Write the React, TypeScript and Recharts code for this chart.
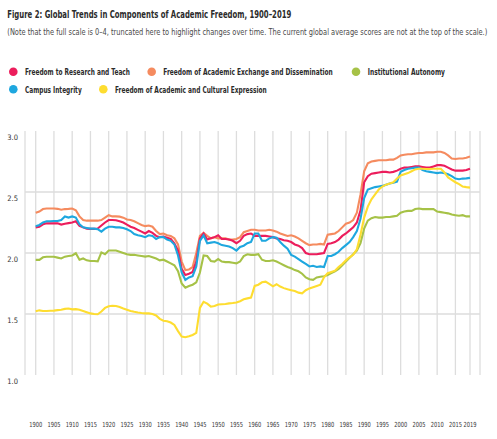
import { CartesianGrid, Line, LineChart, ReferenceLine, XAxis, YAxis } from "recharts";

const YEARS = Array.from({ length: 120 }, (_, i) => 1900 + i);

const RESEARCH_TEACH = [
  2.21, 2.215, 2.235, 2.243, 2.243, 2.243, 2.243, 2.233, 2.24, 2.245,
  2.25, 2.26, 2.222, 2.21, 2.2, 2.198, 2.198, 2.2, 2.225, 2.25,
  2.27, 2.27, 2.268, 2.26, 2.25, 2.232, 2.215, 2.205, 2.19, 2.175,
  2.16, 2.18, 2.165, 2.14, 2.13, 2.135, 2.125, 2.115, 2.08, 2.02,
  1.87, 1.82, 1.83, 1.845, 1.93, 2.12, 2.16, 2.11, 2.12, 2.13,
  2.145, 2.115, 2.115, 2.11, 2.1, 2.08, 2.1, 2.14, 2.155, 2.16,
  2.14, 2.14, 2.14, 2.14, 2.135, 2.13, 2.12, 2.115, 2.105, 2.1,
  2.09, 2.07, 2.06, 2.04, 2.0, 1.99, 1.99, 1.99, 1.995, 2.0,
  2.075, 2.08, 2.09, 2.11, 2.14, 2.16, 2.185, 2.21, 2.25, 2.35,
  2.58, 2.63, 2.65, 2.655, 2.66, 2.665, 2.665, 2.66, 2.665, 2.675,
  2.69, 2.7, 2.7, 2.705, 2.71, 2.71, 2.705, 2.7, 2.7, 2.71,
  2.72, 2.72, 2.715, 2.7, 2.685, 2.675, 2.675, 2.675, 2.68, 2.69,
];

const EXCHANGE = [
  2.33, 2.34, 2.36, 2.365, 2.365, 2.365, 2.362, 2.355, 2.36, 2.362,
  2.365, 2.35, 2.3, 2.27, 2.265, 2.265, 2.265, 2.265, 2.27, 2.29,
  2.31, 2.3, 2.3, 2.298, 2.29, 2.275, 2.27, 2.26, 2.245, 2.23,
  2.22, 2.225, 2.215, 2.18, 2.155, 2.16, 2.145, 2.14, 2.12, 2.07,
  1.93, 1.86, 1.865, 1.885, 2.0, 2.14, 2.165, 2.14, 2.12, 2.13,
  2.12, 2.12, 2.12, 2.11, 2.11, 2.115, 2.13, 2.17, 2.18, 2.19,
  2.19, 2.185, 2.185, 2.185, 2.19, 2.185, 2.175, 2.16, 2.15, 2.14,
  2.145, 2.135, 2.12, 2.1, 2.08, 2.065, 2.07, 2.07, 2.075, 2.07,
  2.15, 2.155, 2.16, 2.18, 2.21, 2.24, 2.25, 2.27, 2.33, 2.48,
  2.67, 2.735, 2.75, 2.755, 2.76, 2.76, 2.76, 2.765, 2.765, 2.78,
  2.8, 2.805, 2.81, 2.81, 2.815, 2.82, 2.82, 2.825, 2.825, 2.825,
  2.83, 2.83, 2.82, 2.8, 2.775, 2.77, 2.775, 2.775, 2.78, 2.79,
];

const AUTONOMY = [
  1.944, 1.944, 1.965, 1.969, 1.969, 1.969, 1.962, 1.955, 1.97, 1.975,
  1.98, 1.998, 1.945, 1.955, 1.94, 1.935, 1.935, 1.932, 2.005, 1.99,
  2.02, 2.02, 2.02, 2.01, 2.0, 1.99, 1.985, 1.985, 1.98, 1.975,
  1.97, 1.975, 1.965, 1.955, 1.94, 1.945, 1.93, 1.915, 1.9, 1.85,
  1.75, 1.715, 1.73, 1.74, 1.76, 1.84, 1.98, 1.975, 1.935, 1.93,
  1.95, 1.93, 1.925, 1.925, 1.92, 1.915, 1.93, 1.975, 1.99, 1.985,
  1.985, 1.99, 1.945, 1.935, 1.935, 1.94, 1.93, 1.915, 1.9, 1.885,
  1.875, 1.86, 1.85, 1.83, 1.8, 1.785, 1.78, 1.8, 1.805, 1.81,
  1.82, 1.835, 1.85, 1.87, 1.9, 1.93, 1.96, 1.99, 2.02, 2.08,
  2.2, 2.265, 2.285, 2.295, 2.29, 2.29, 2.295, 2.295, 2.3, 2.305,
  2.33, 2.34, 2.345, 2.345, 2.36, 2.365, 2.36, 2.36, 2.36, 2.36,
  2.34, 2.335, 2.33, 2.325, 2.315, 2.31, 2.305, 2.31, 2.3, 2.3,
];

const CAMPUS = [
  2.22, 2.23, 2.25, 2.26, 2.26, 2.262, 2.262, 2.27, 2.3, 2.29,
  2.3, 2.29, 2.235, 2.21, 2.205, 2.2, 2.2, 2.195, 2.175, 2.2,
  2.215, 2.215, 2.21, 2.21, 2.205, 2.195, 2.18, 2.155, 2.145, 2.14,
  2.13, 2.145, 2.14, 2.115, 2.13, 2.13, 2.11, 2.1, 2.07, 1.98,
  1.84, 1.78, 1.8, 1.81, 1.89, 2.1, 2.145, 2.08, 2.085, 2.09,
  2.08, 2.065, 2.06, 2.053, 2.04, 2.02, 2.05, 2.06, 2.08, 2.09,
  2.16, 2.16, 2.1, 2.1, 2.12, 2.13, 2.125, 2.09, 2.06, 2.035,
  1.985, 1.97, 1.95, 1.93, 1.91, 1.89, 1.895, 1.885, 1.89, 1.885,
  1.975, 1.975, 1.99, 2.01, 2.04, 2.065, 2.09, 2.13, 2.18, 2.28,
  2.45, 2.52, 2.53, 2.54, 2.545, 2.55, 2.56, 2.57, 2.575, 2.585,
  2.665, 2.68, 2.69, 2.695, 2.7, 2.7, 2.68, 2.67, 2.665, 2.66,
  2.655, 2.66, 2.655, 2.645, 2.63, 2.61, 2.605, 2.61, 2.612, 2.616,
];

const EXPRESSION = [
  1.522, 1.53, 1.525, 1.525, 1.527, 1.528, 1.532, 1.535, 1.542, 1.545,
  1.538, 1.54, 1.535, 1.525, 1.515, 1.505, 1.5, 1.498, 1.52, 1.55,
  1.563, 1.568, 1.565, 1.558, 1.545, 1.535, 1.525, 1.518, 1.512, 1.508,
  1.505, 1.505, 1.5, 1.488, 1.46, 1.445, 1.44, 1.43, 1.41, 1.36,
  1.315, 1.31, 1.318, 1.328, 1.345, 1.55, 1.6, 1.585, 1.56, 1.565,
  1.578, 1.58, 1.582, 1.587, 1.59, 1.594, 1.605, 1.62, 1.628, 1.635,
  1.73, 1.74, 1.76, 1.765, 1.746, 1.727, 1.744, 1.725, 1.712, 1.702,
  1.695, 1.688, 1.675, 1.67, 1.695, 1.71, 1.72, 1.73, 1.74, 1.8,
  1.835, 1.845, 1.855, 1.885, 1.91, 1.94, 1.965, 1.985, 2.03, 2.15,
  2.29, 2.38, 2.44, 2.48, 2.52, 2.545, 2.56, 2.57, 2.58, 2.61,
  2.635, 2.645, 2.655, 2.67, 2.685, 2.69, 2.69, 2.688, 2.688, 2.69,
  2.69, 2.69, 2.66, 2.62, 2.6, 2.58, 2.565, 2.545, 2.54, 2.536,
];

const X_TICKS = [
  1900, 1905, 1910, 1915, 1920, 1925, 1930, 1935, 1940, 1945, 1950, 1955,
  1960, 1965, 1970, 1975, 1980, 1985, 1990, 1995, 2000, 2005, 2010, 2015, 2019,
];
const Y_TICKS = [1.0, 1.5, 2.0, 2.5, 3.0];
const GRID_VALUES = [1.5, 2.0, 2.5];

const TITLE = "Figure 2: Global Trends in Components of Academic Freedom, 1900\u20132019";
const SUBTITLE =
  "(Note that the full scale is 0\u20134, truncated here to highlight changes over time. The current global average scores are not at the top of the scale.)";

// draw order: last one ends up on top
const SERIES = [
  { key: "autonomy", label: "Institutional Autonomy", color: "#a6c247", values: AUTONOMY },
  { key: "exchange", label: "Freedom of Academic Exchange and Dissemination", color: "#f58b5f", values: EXCHANGE },
  { key: "research", label: "Freedom to Research and Teach", color: "#ec1d5c", values: RESEARCH_TEACH },
  { key: "campus", label: "Campus Integrity", color: "#1ea7df", values: CAMPUS },
  { key: "expression", label: "Freedom of Academic and Cultural Expression", color: "#fedd30", values: EXPRESSION },
];

// legend placement (dot x, text x, text width, row)
const LEGEND_LAYOUT = [
  { key: "research", cx: 13.3, tx: 25, w: 105, row: 0 },
  { key: "exchange", cx: 151.7, tx: 163.3, w: 169.5, row: 0 },
  { key: "autonomy", cx: 356, tx: 367.7, w: 77.3, row: 0 },
  { key: "campus", cx: 13.3, tx: 25, w: 56.7, row: 1 },
  { key: "expression", cx: 103.3, tx: 115, w: 151.7, row: 1 },
];

const FONT = "'Liberation Sans Narrow', 'DejaVu Sans Condensed', 'Roboto Condensed', 'Noto Sans', sans-serif";
const GRID_COLOR = "#dddddd";

const rows = YEARS.map((year, i) => {
  const row: Record<string, number> = { year };
  SERIES.forEach((s) => {
    row[s.key] = s.values[i];
  });
  return row;
});

function XTick({ x, payload }: any) {
  return (
    <text x={x} y={426.5} textAnchor="middle" fontSize={7} fontFamily={FONT} fill="#333" textLength={13} lengthAdjust="spacingAndGlyphs">
      {payload.value}
    </text>
  );
}

function YTick({ y, payload }: any) {
  return (
    <text x={7.3} y={y + 8.7} textAnchor="start" fontSize={7.5} fontFamily={FONT} fill="#333">
      {Number(payload.value).toFixed(1)}
    </text>
  );
}

function Header() {
  const byKey = Object.fromEntries(SERIES.map((s) => [s.key, s]));
  return (
    <svg width={497} height={100} style={{ position: "absolute", left: 0, top: 0 }}>
      <text x={7.3} y={18.3} fontSize={11} fontWeight="bold" fontFamily={FONT} fill="#2b2b2b" textLength={284} lengthAdjust="spacingAndGlyphs">
        {TITLE}
      </text>
      <text x={7.3} y={35} fontSize={9} fontFamily={FONT} fill="#4a4a4a" textLength={480} lengthAdjust="spacingAndGlyphs">
        {SUBTITLE}
      </text>
      {LEGEND_LAYOUT.map((l) => {
        const s = byKey[l.key];
        const cy = l.row === 0 ? 71.7 : 89.3;
        return (
          <g key={l.key}>
            <circle cx={l.cx} cy={cy} r={4.3} fill={s.color} />
            <text x={l.tx} y={cy + 3.2} fontSize={8.5} fontWeight="bold" fontFamily={FONT} fill="#2b2b2b" textLength={l.w} lengthAdjust="spacingAndGlyphs">
              {s.label}
            </text>
          </g>
        );
      })}
    </svg>
  );
}

export default function App() {
  return (
    <div style={{ position: "absolute", left: 0, top: 0, width: 497, height: 439, background: "#fff" }}>
      <LineChart width={497} height={439} data={rows} margin={{ top: 131, right: 17, bottom: 32, left: 0 }}>
        <CartesianGrid horizontal={false} vertical stroke={GRID_COLOR} strokeWidth={1.3} />
        {GRID_VALUES.map((v) => (
          <ReferenceLine key={v} y={v} stroke={GRID_COLOR} strokeWidth={1.5} />
        ))}
        <XAxis
          type="number"
          dataKey="year"
          domain={[1897.07, 2021.74]}
          ticks={X_TICKS}
          interval={0}
          allowDataOverflow
          axisLine={false}
          tickLine={false}
          height={32}
          tick={<XTick />}
        />
        <YAxis
          type="number"
          domain={[1, 3]}
          ticks={Y_TICKS}
          interval={0}
          allowDataOverflow
          axisLine={false}
          tickLine={false}
          width={25}
          tick={<YTick />}
        />
        {SERIES.map((s) => (
          <Line
            key={s.key}
            type="linear"
            dataKey={s.key}
            name={s.label}
            stroke={s.color}
            strokeWidth={2.1}
            dot={false}
            isAnimationActive={false}
          />
        ))}
      </LineChart>
      <Header />
    </div>
  );
}
